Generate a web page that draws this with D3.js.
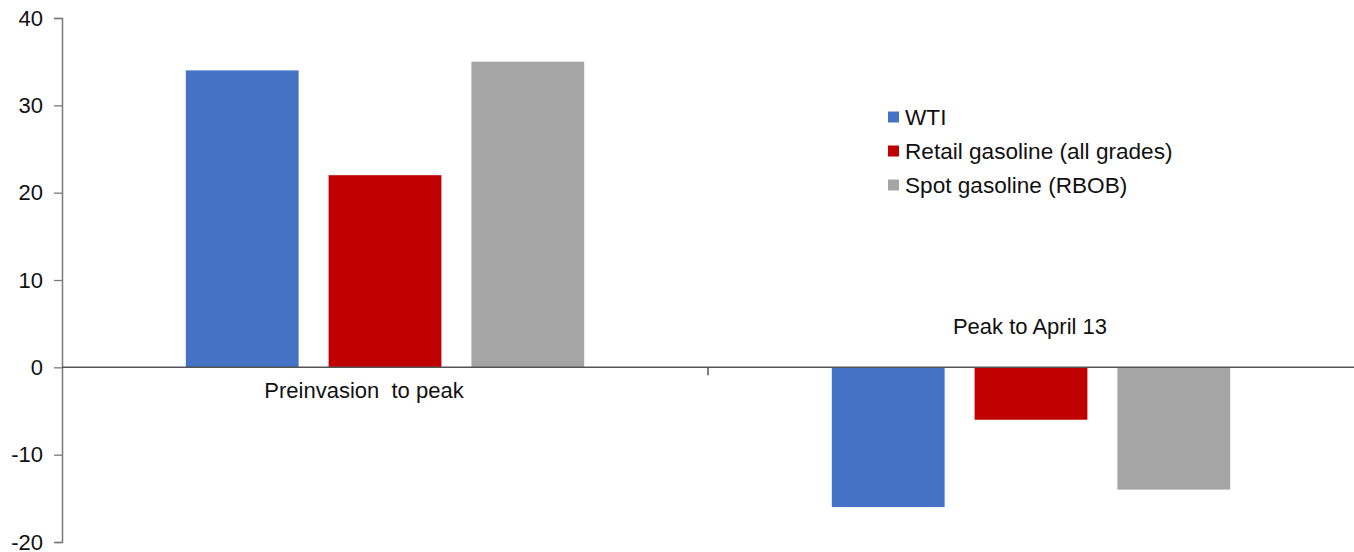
<!DOCTYPE html>
<html>
<head>
<meta charset="utf-8">
<script src="https://cdn.jsdelivr.net/npm/d3@7"></script>
<style>
  html, body { margin: 0; padding: 0; background: #fff; }
  svg { display: block; font-family: "Liberation Sans", Arial, sans-serif; }
</style>
</head>
<body>
<svg id="chart" width="1354" height="552"></svg>
<script>
const categories = ["Preinvasion  to peak", "Peak to April 13"];
const series = ["WTI", "Retail gasoline (all grades)", "Spot gasoline (RBOB)"];
const wtiValues = [34, -16];
const retailValues = [22, -6];
const spotValues = [35, -14];
const yTicks = [-20, -10, 0, 10, 20, 30, 40];
const colors = ["#4472C4", "#C00000", "#A5A5A5"];

const valuesBySeries = [wtiValues, retailValues, spotValues];
const data = categories.map((c, ci) => ({
  category: c,
  values: series.map((s, si) => ({ series: s, value: valuesBySeries[si][ci], color: colors[si] }))
}));

const svg = d3.select("#chart");
const plotLeft = 62, plotRight = 1354, plotTop = 18, plotBottom = 542;

const y = d3.scaleLinear().domain([-20, 40]).range([plotBottom, plotTop]);
const x0 = d3.scaleBand().domain(categories).range([plotLeft, plotRight]).paddingInner(0).paddingOuter(0);
const x1 = d3.scaleBand().domain(series).range([0, x0.bandwidth()]).paddingInner(0.21).paddingOuter(0.867);

const fontSize = 22;
const textColor = "#111";
const axisColor = "#7a7a7a";

// Bars
const groups = svg.append("g").selectAll("g").data(data).join("g")
  .attr("transform", d => `translate(${x0(d.category)},0)`);
groups.selectAll("rect").data(d => d.values).join("rect")
  .attr("x", d => x1(d.series))
  .attr("width", x1.bandwidth())
  .attr("y", d => y(Math.max(0, d.value)))
  .attr("height", d => Math.abs(y(d.value) - y(0)))
  .attr("fill", d => d.color);

// Y axis
const yAxis = svg.append("g")
  .attr("transform", `translate(${plotLeft},0)`)
  .call(d3.axisLeft(y).tickValues(yTicks).tickSize(8).tickPadding(11).tickFormat(d => String(d)));
yAxis.select(".domain").attr("stroke", axisColor).attr("stroke-width", 1.5);
yAxis.selectAll(".tick line").attr("stroke", axisColor).attr("stroke-width", 1.3);
yAxis.selectAll(".tick text")
  .attr("font-size", fontSize)
  .attr("font-family", "Liberation Sans, Arial, sans-serif")
  .attr("fill", textColor);

// X axis at zero
const y0 = y(0);
svg.append("line")
  .attr("x1", plotLeft).attr("x2", plotRight)
  .attr("y1", y0).attr("y2", y0)
  .attr("stroke", "#555").attr("stroke-width", 1.5);
svg.append("g").selectAll("line").data(categories.slice(1)).join("line")
  .attr("x1", d => x0(d)).attr("x2", d => x0(d))
  .attr("y1", y0).attr("y2", y0 + 8)
  .attr("stroke", "#555").attr("stroke-width", 1.5);

// Category labels
const labelPos = [
  { dx: -21, y: y0 + 31 },
  { dx: -1, y: y0 - 33 }
];
svg.append("g").selectAll("text").data(categories).join("text")
  .attr("x", (d, i) => x0(d) + x0.bandwidth() / 2 + labelPos[i].dx)
  .attr("y", (d, i) => labelPos[i].y)
  .attr("text-anchor", "middle")
  .attr("font-size", fontSize)
  .attr("fill", textColor)
  .style("white-space", "pre")
  .text(d => d);

// Legend
const legend = svg.append("g").attr("transform", "translate(888,117)");
const rowH = 34;
const items = legend.selectAll("g").data(series).join("g")
  .attr("transform", (d, i) => `translate(0,${i * rowH})`);
items.append("rect")
  .attr("x", 0).attr("y", -5.5)
  .attr("width", 11).attr("height", 11)
  .attr("fill", (d, i) => colors[i]);
items.append("text")
  .attr("x", 17).attr("y", 0)
  .attr("dy", "0.36em")
  .attr("font-size", 22.6)
  .attr("fill", textColor)
  .text(d => d);
</script>
</body>
</html>
